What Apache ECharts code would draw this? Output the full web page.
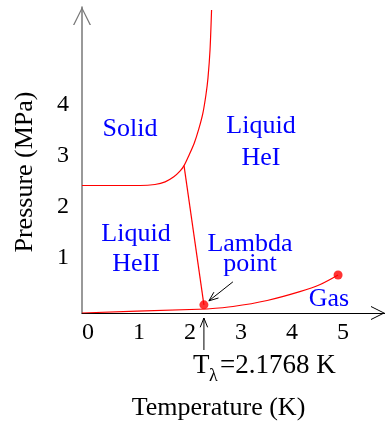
<!DOCTYPE html>
<html>
<head>
<meta charset="utf-8">
<script src="https://cdn.jsdelivr.net/npm/echarts@6/dist/echarts.min.js"></script>
<style>
  html, body { margin: 0; padding: 0; background: #fff; }
  #chart { width: 385px; height: 427px; }
</style>
</head>
<body>
<div id="chart"></div>
<script>
// melting curve (solid / liquid)
const meltT = [0, 1.14, 1.43, 1.63, 1.8, 1.92, 2.0, 2.1, 2.2, 2.29, 2.37, 2.43, 2.47, 2.51, 2.54]
const meltP = [2.5, 2.5, 2.52, 2.57, 2.67, 2.78, 2.89, 3.1, 3.33, 3.61, 3.92, 4.28, 4.61, 5.16, 5.94]
// lambda line (HeI / HeII)
const lambdaT = [2.0, 2.39]
const lambdaP = [2.89, 0.16]
// vapour pressure curve of HeII
const vapor2T = [0, 1.08, 2.45]
const vapor2P = [0, 0.035, 0.078]
// vapour pressure curve of HeI up to the critical point
const vapor1T = [2.45, 2.96, 3.63, 4.27, 4.67, 5.02]
const vapor1P = [0.078, 0.127, 0.245, 0.418, 0.559, 0.745]
// lambda point, critical point
const dotT = [2.39, 5.02]
const dotP = [0.16, 0.745]

const xTicks = [0, 1, 2, 3, 4, 5]
const yTicks = [1, 2, 3, 4]

const pairs = (xs, ys) => xs.map((x, i) => [x, ys[i]])
const FONT = 'Liberation Serif'
const chevron = 'path://M0,18L9,0L18,18L16.6,18L9,2.6L1.4,18Z'

const myChart = echarts.init(document.getElementById('chart'))

const redLine = (data, smooth) => ({
  type: 'line',
  data,
  smooth,
  showSymbol: false,
  silent: true,
  lineStyle: { color: '#ff0000', width: 1.2 }
})

const option = {
  animation: false,
  grid: { left: 82, right: 0, top: 7, bottom: 114 },
  xAxis: {
    type: 'value',
    min: 0,
    max: 5.94,
    name: 'Temperature (K)',
    nameLocation: 'middle',
    nameGap: 82,
    nameTextStyle: { fontFamily: FONT, fontSize: 26, color: '#000', padding: [0, 30, 0, 0] },
    axisLine: {
      onZero: false,
      lineStyle: { color: '#000', width: 1 },
      symbol: ['none', chevron],
      symbolSize: [20, 14],
      symbolOffset: [0, -7]
    },
    axisTick: { show: false },
    splitLine: { show: false },
    axisLabel: {
      customValues: xTicks,
      fontFamily: FONT,
      fontSize: 24,
      color: '#000',
      margin: 8,
      padding: [0, 0, 0, 12]
    }
  },
  yAxis: {
    type: 'value',
    min: 0,
    max: 6,
    name: 'Pressure (MPa)',
    nameLocation: 'middle',
    nameGap: 44,
    nameTextStyle: { fontFamily: FONT, fontSize: 26, color: '#000', padding: [0, 24, 0, 0] },
    axisLine: {
      onZero: false,
      lineStyle: { color: '#777', width: 1.5 },
      symbol: ['none', chevron],
      symbolSize: [18, 18],
      symbolOffset: [0, -9]
    },
    axisTick: { show: false },
    splitLine: { show: false },
    axisLabel: {
      customValues: yTicks,
      fontFamily: FONT,
      fontSize: 24,
      color: '#000',
      margin: 13,
      verticalAlign: 'bottom',
      lineHeight: 8
    }
  },
  series: [
    redLine(pairs(meltT, meltP), 0.25),
    redLine(pairs(lambdaT, lambdaP), false),
    redLine(pairs(vapor2T, vapor2P), false),
    redLine(pairs(vapor1T, vapor1P), 0.3),
    {
      type: 'scatter',
      data: pairs(dotT, dotP),
      symbolSize: 9,
      silent: true,
      itemStyle: { color: '#ff0000' }
    }
  ]
}
myChart.setOption(option)

// annotations
const arrow = (x1, y1, x2, y2) => {
  const a = Math.atan2(y2 - y1, x2 - x1)
  const len = 10
  const w = 0.38
  return {
    type: 'group',
    children: [
      { type: 'line', shape: { x1, y1, x2, y2 }, style: { stroke: '#000', lineWidth: 1 } },
      {
        type: 'polyline',
        shape: {
          points: [
            [x2 - len * Math.cos(a - w), y2 - len * Math.sin(a - w)],
            [x2, y2],
            [x2 - len * Math.cos(a + w), y2 - len * Math.sin(a + w)]
          ]
        },
        style: { stroke: '#000', lineWidth: 1, fill: 'none' }
      }
    ]
  }
}
const label = (text, x, y, lineHeight, color = '#0000ff', size = 26, align = 'center') => ({
  type: 'text',
  x,
  y,
  style: {
    text,
    fill: color,
    fontFamily: FONT,
    fontSize: size,
    lineHeight: lineHeight || size,
    align,
    verticalAlign: 'middle'
  }
})

const lp = myChart.convertToPixel({ gridIndex: 0 }, [dotT[0], dotP[0]])
const axisY = myChart.convertToPixel({ gridIndex: 0 }, [0, 0])[1]

myChart.setOption({
  graphic: [
    label('Solid', 130, 129),
    label('Liquid\nHeI', 261, 142, 32),
    label('Liquid\nHeII', 136, 249, 30),
    label('Lambda\npoint', 250, 254, 20),
    label('Gas', 329, 299),
    arrow(lp[0] + 29, lp[1] - 23, lp[0] + 5, lp[1] - 4),
    arrow(lp[0], axisY + 37, lp[0], axisY + 5),
    label('T', 193, 366, 27, '#000', 27, 'left'),
    label('λ', 209, 376, 18, '#000', 18, 'left'),
    label('=2.1768 K', 220, 366, 27, '#000', 27, 'left')
  ]
})
</script>
</body>
</html>
